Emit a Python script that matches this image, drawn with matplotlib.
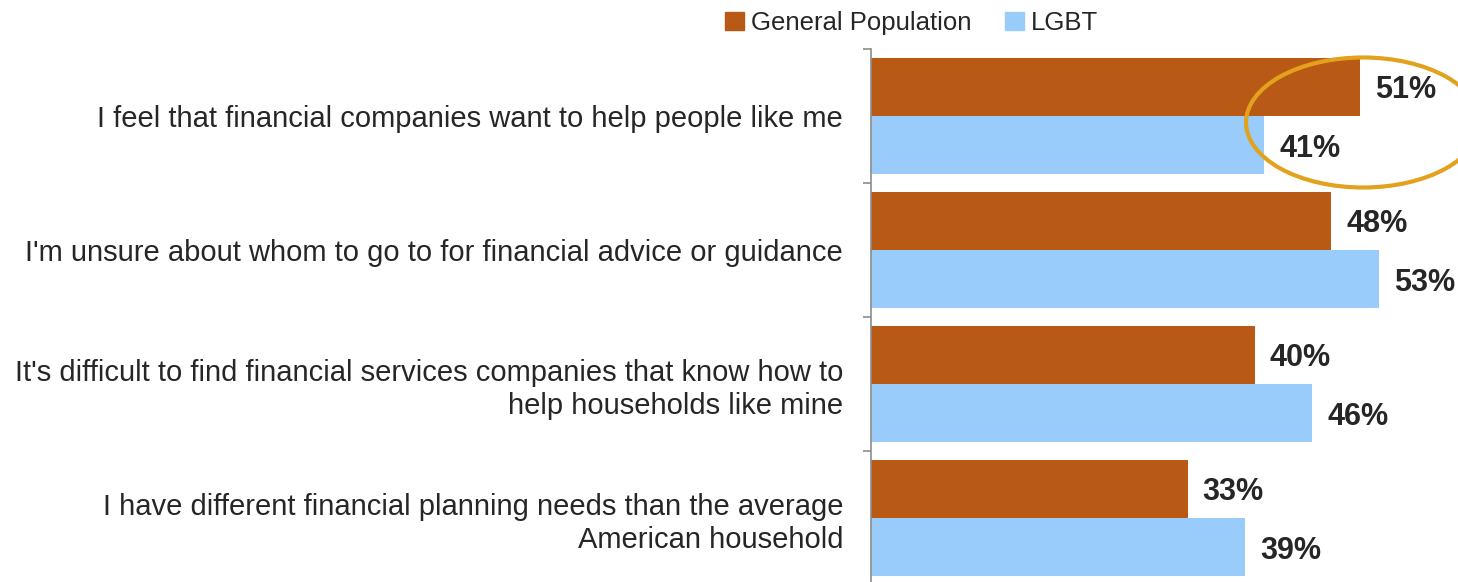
import matplotlib
matplotlib.use("Agg")
import matplotlib.pyplot as plt
import matplotlib.transforms as mtransforms
from matplotlib.patches import Ellipse, Patch
import numpy as np

plt.rcParams['font.family'] = ['Liberation Sans', 'DejaVu Sans']

categories = [
    "I feel that financial companies want to help people like me",
    "I'm unsure about whom to go to for financial advice or guidance",
    "It's difficult to find financial services companies that know how to\nhelp households like mine",
    "I have different financial planning needs than the average\nAmerican household",
]
general_population = [51, 48, 40, 33]
lgbt = [41, 53, 46, 39]
series_names = ["General Population", "LGBT"]

c_gen = "#B95916"
c_lgbt = "#99CBFB"
c_text = "#262626"

fig = plt.figure(figsize=(14.58, 5.82), dpi=100)
ax = fig.add_axes([871/1458, -3/582, 1 - 871/1458, 536/582])

y = np.arange(len(categories))
h = 0.433
ax.barh(y - h/2, general_population, height=h, color=c_gen, label=series_names[0])
ax.barh(y + h/2, lgbt, height=h, color=c_lgbt, label=series_names[1])

for yi, v in zip(y, general_population):
    ax.text(v + 1.55, yi - h/2, f"{v}%", va="center_baseline", ha="left", fontsize=22,
            fontweight="bold", color=c_text)
for yi, v in zip(y, lgbt):
    ax.text(v + 1.55, yi + h/2, f"{v}%", va="center_baseline", ha="left", fontsize=22,
            fontweight="bold", color=c_text)

ax.set_xlim(0, 61.2)
ax.set_ylim(len(categories) - 0.5, -0.5)

ax.set_yticks(y)
ax.set_yticklabels(categories, fontsize=21, color=c_text, ha="right",
                   linespacing=1.22)
ax.tick_params(axis="y", which="major", length=0, pad=20)
ax.set_yticks(np.arange(-0.5, len(categories), 1.0), minor=True)
ax.tick_params(axis="y", which="minor", length=6, width=1.2, color="#8c8c8c")
ax.set_xticks([])
for s in ["top", "right", "bottom"]:
    ax.spines[s].set_visible(False)
ax.spines["left"].set_color("#8c8c8c")
ax.spines["left"].set_linewidth(1.2)

# highlight ellipse around first category labels
trans = fig.dpi_scale_trans + mtransforms.ScaledTranslation(51.3, 0.0, ax.transData)
ell = Ellipse((0, -0.065), 2.34, 1.30, angle=0, fill=False, edgecolor="#E3A21E",
              linewidth=3, transform=trans, clip_on=False)
ax.add_artist(ell)

handles = [Patch(color=c_gen), Patch(color=c_lgbt)]
fig.legend(handles, series_names, loc="center left", bbox_to_anchor=(725/1458, 1 - 23/582),
           ncol=2, frameon=False, fontsize=18.5, handlelength=0.72, handleheight=0.72,
           handletextpad=0.3, columnspacing=1.3, labelcolor=c_text, borderaxespad=0,
           borderpad=0)

fig.savefig("out.png", dpi=100)
